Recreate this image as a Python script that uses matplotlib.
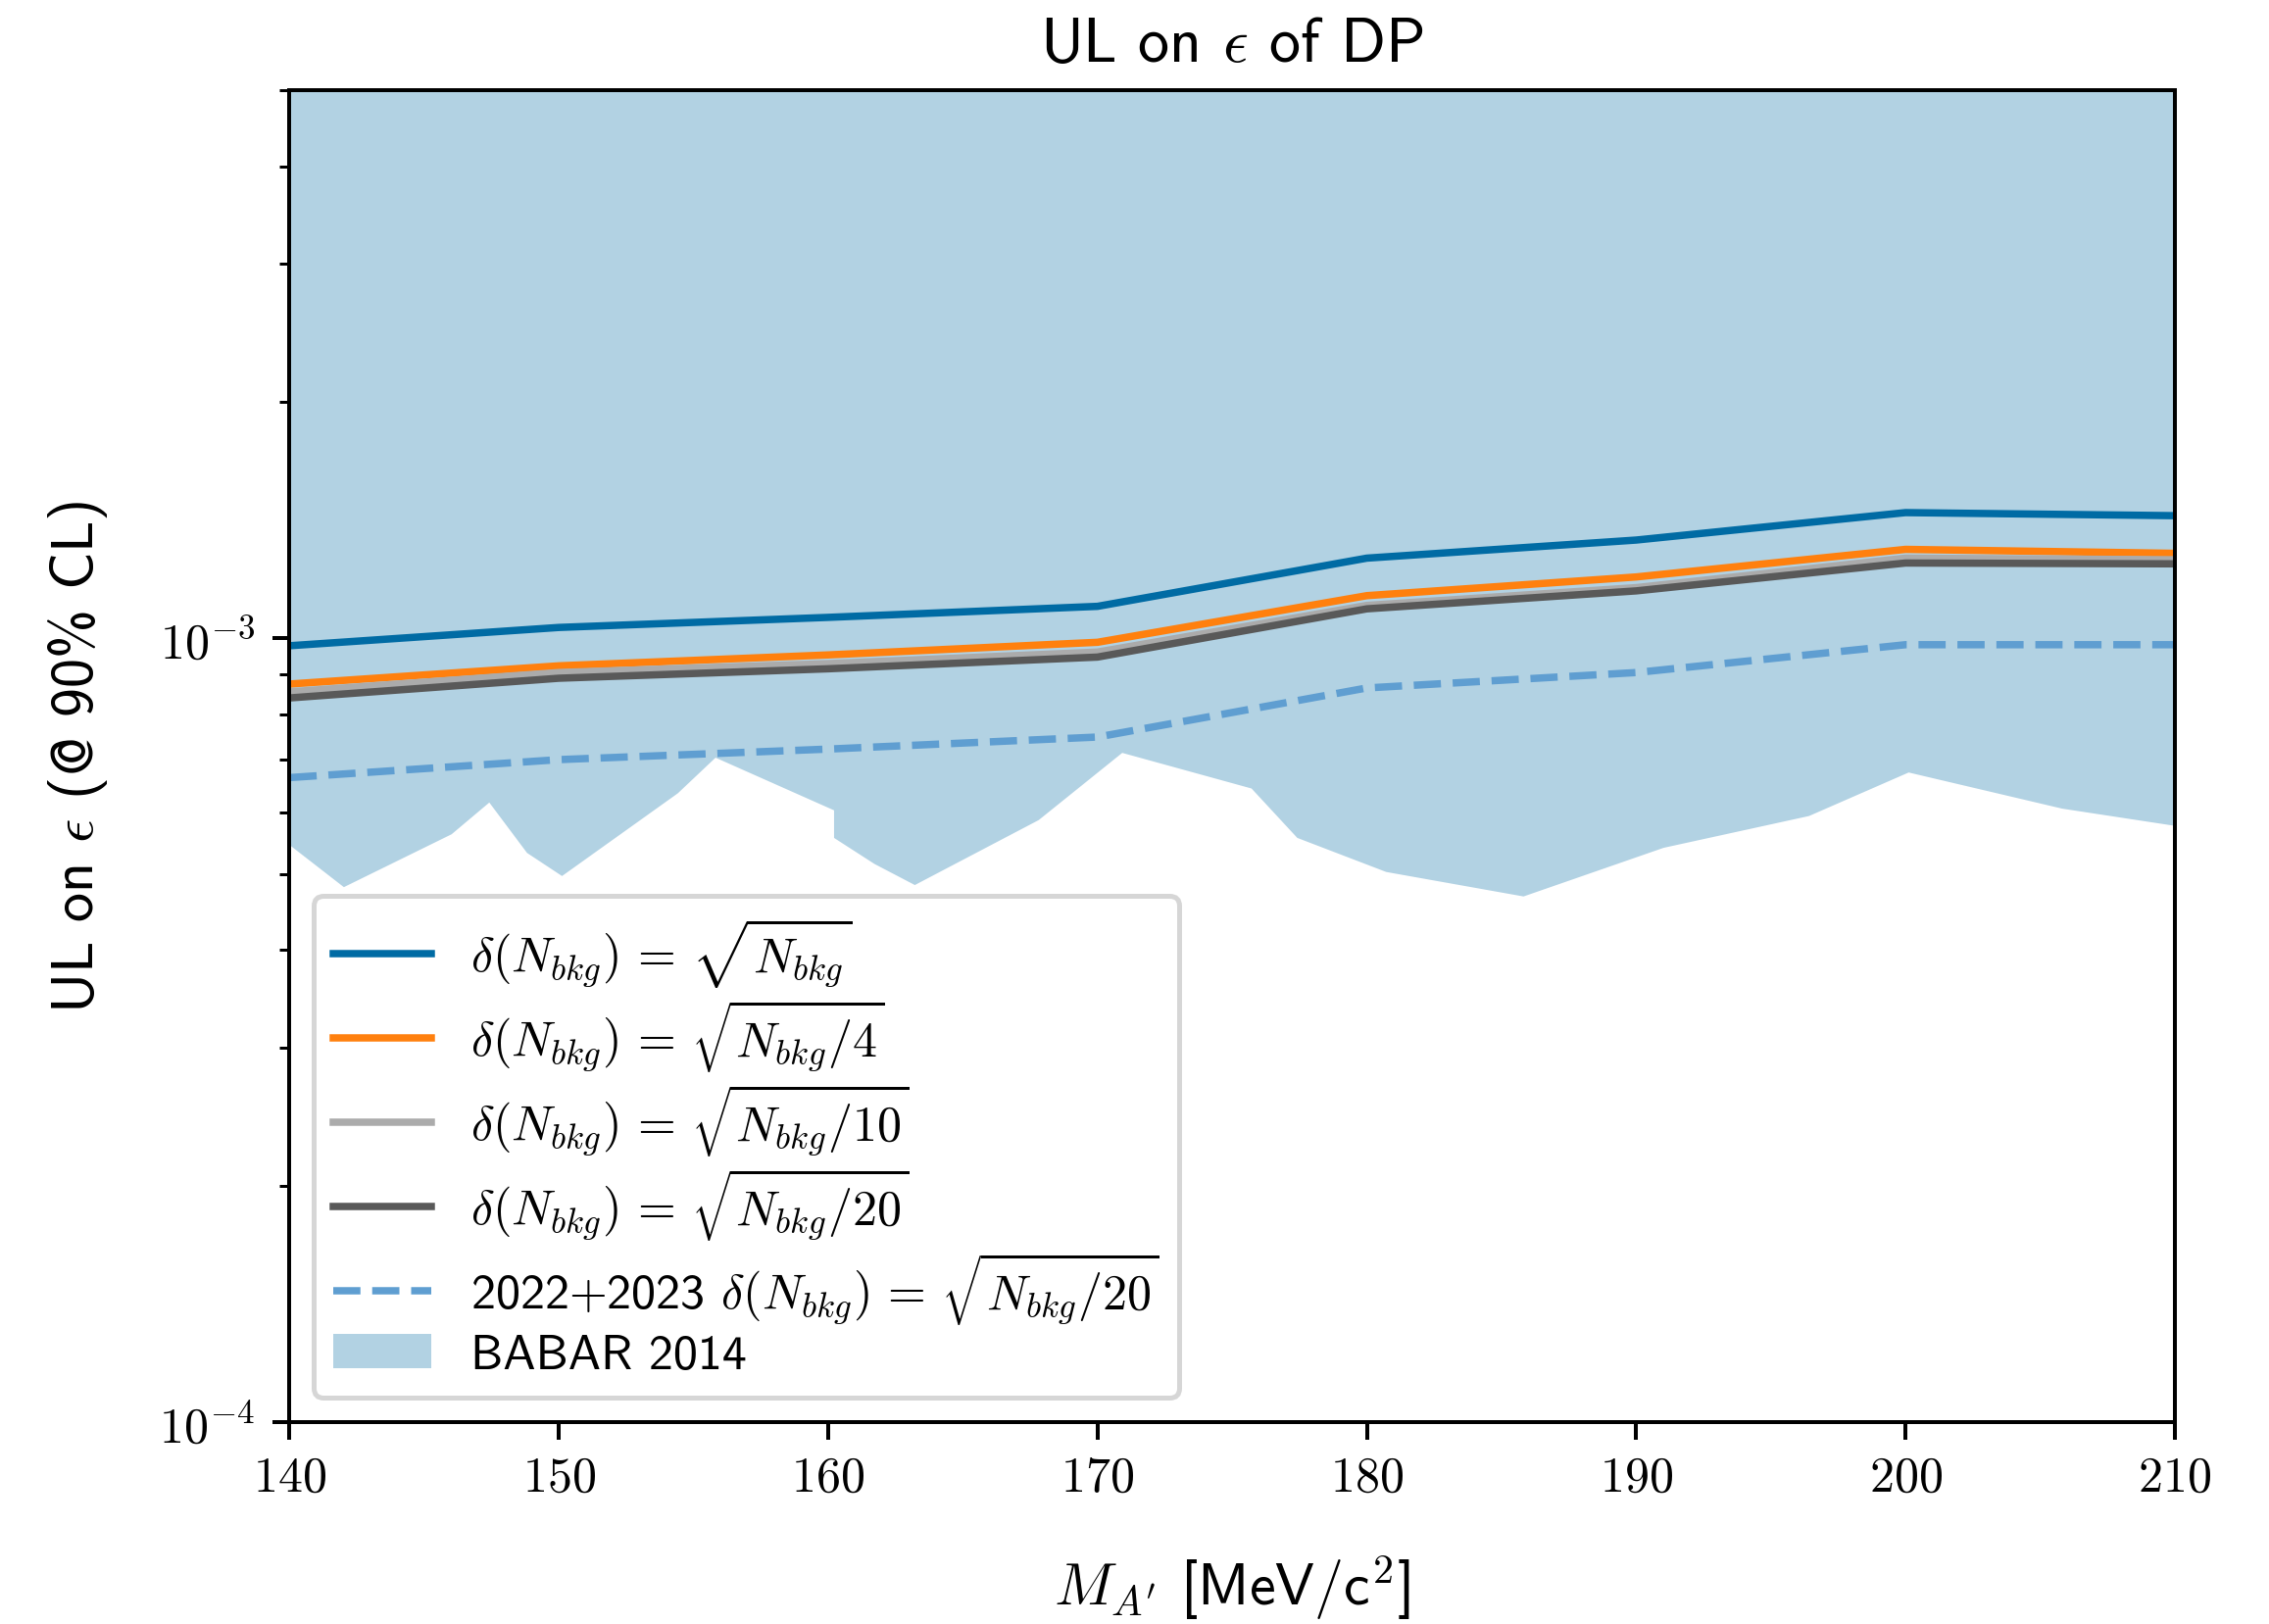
import math
import matplotlib
matplotlib.use("Agg")
import matplotlib.pyplot as plt
from matplotlib.ticker import FixedLocator, FuncFormatter, LogLocator, NullFormatter

plt.style.use("tableau-colorblind10")
plt.rcParams["font.family"] = ["cmss10", "DejaVu Sans"]
plt.rcParams["mathtext.fontset"] = "cm"
plt.rcParams["axes.unicode_minus"] = False

# dark photon mass points [MeV/c^2]
mass = [140, 150, 160, 170, 180, 190, 200, 210]

# upper limits on epsilon for the different background uncertainties
ul_sqrt = [0.978e-3, 1.032e-3, 1.063e-3, 1.098e-3, 1.265e-3, 1.334e-3, 1.446e-3, 1.433e-3]
ul_sqrt4 = [0.874e-3, 0.922e-3, 0.952e-3, 0.988e-3, 1.133e-3, 1.197e-3, 1.298e-3, 1.283e-3]
ul_sqrt10 = [0.854e-3, 0.904e-3, 0.928e-3, 0.960e-3, 1.101e-3, 1.160e-3, 1.265e-3, 1.259e-3]
ul_sqrt20 = [0.839e-3, 0.889e-3, 0.914e-3, 0.946e-3, 1.090e-3, 1.149e-3, 1.247e-3, 1.244e-3]
ul_2223 = [0.664e-3, 0.700e-3, 0.722e-3, 0.748e-3, 0.864e-3, 0.904e-3, 0.981e-3, 0.981e-3]

# BABAR 2014 exclusion (lower edge)
babar_mass = [140.0, 142.0, 146.0, 147.4, 148.8, 150.1, 154.4, 155.8, 160.2, 160.2,
              161.7, 163.2, 167.8, 170.9, 175.7, 177.4, 180.7, 185.8, 191.0, 196.4,
              200.1, 205.8, 210.0]
babar_eps = [5.45e-4, 4.82e-4, 5.63e-4, 6.18e-4, 5.33e-4, 4.98e-4, 6.35e-4, 7.05e-4,
             6.04e-4, 5.57e-4, 5.16e-4, 4.85e-4, 5.87e-4, 7.15e-4, 6.44e-4, 5.57e-4,
             5.04e-4, 4.69e-4, 5.41e-4, 5.94e-4, 6.75e-4, 6.07e-4, 5.77e-4]

labels = [
    r"$\delta(N_{bkg})\,=\,\sqrt{N_{bkg}}$",
    r"$\delta(N_{bkg})\,=\,\sqrt{N_{bkg}/4}$",
    r"$\delta(N_{bkg})\,=\,\sqrt{N_{bkg}/10}$",
    r"$\delta(N_{bkg})\,=\,\sqrt{N_{bkg}/20}$",
    r"2022+2023 $\delta(N_{bkg})\,=\,\sqrt{N_{bkg}/20}$",
]

fig = plt.figure(figsize=(2315 / 360, 1658 / 360), dpi=360)
ax = fig.add_axes([0.1276, 0.1242, 0.8309, 0.8197])

ax.plot(mass, ul_sqrt, color="C0", lw=1.5, label=labels[0])
ax.plot(mass, ul_sqrt4, color="C1", lw=1.5, label=labels[1])
ax.plot(mass, ul_sqrt10, color="C2", lw=1.5, label=labels[2])
ax.plot(mass, ul_sqrt20, color="C3", lw=1.5, label=labels[3])
ax.plot(mass, ul_2223, color="C4", lw=1.5, ls="--", label=labels[4])

ax.fill_between(babar_mass, babar_eps, 1e-2, color="C0", alpha=0.3, lw=0,
                label="BABAR 2014")

ax.set_yscale("log")
ax.set_xlim(140, 210)
ax.set_ylim(1e-4, 5e-3)

ax.xaxis.set_major_locator(FixedLocator(mass))
ax.xaxis.set_major_formatter(FuncFormatter(lambda v, p: f"${v:.0f}$"))
ax.yaxis.set_major_locator(LogLocator(base=10))
ax.yaxis.set_major_formatter(FuncFormatter(lambda v, p: f"$10^{{{int(round(math.log10(v)))}}}$"))
ax.yaxis.set_minor_formatter(NullFormatter())
ax.tick_params(labelsize=10)

ax.set_title(r"UL on $\epsilon$ of DP", fontsize=12.8)
ax.set_xlabel(r"$M_{A'}$ [MeV/c$^2$]", fontsize=12, labelpad=10.5)
ax.set_ylabel(r"UL on $\epsilon$ (@ 90% CL)", fontsize=12, labelpad=10)

ax.legend(loc="lower left", fontsize=10, labelspacing=0.16)

fig.savefig("out.png", dpi=360)
